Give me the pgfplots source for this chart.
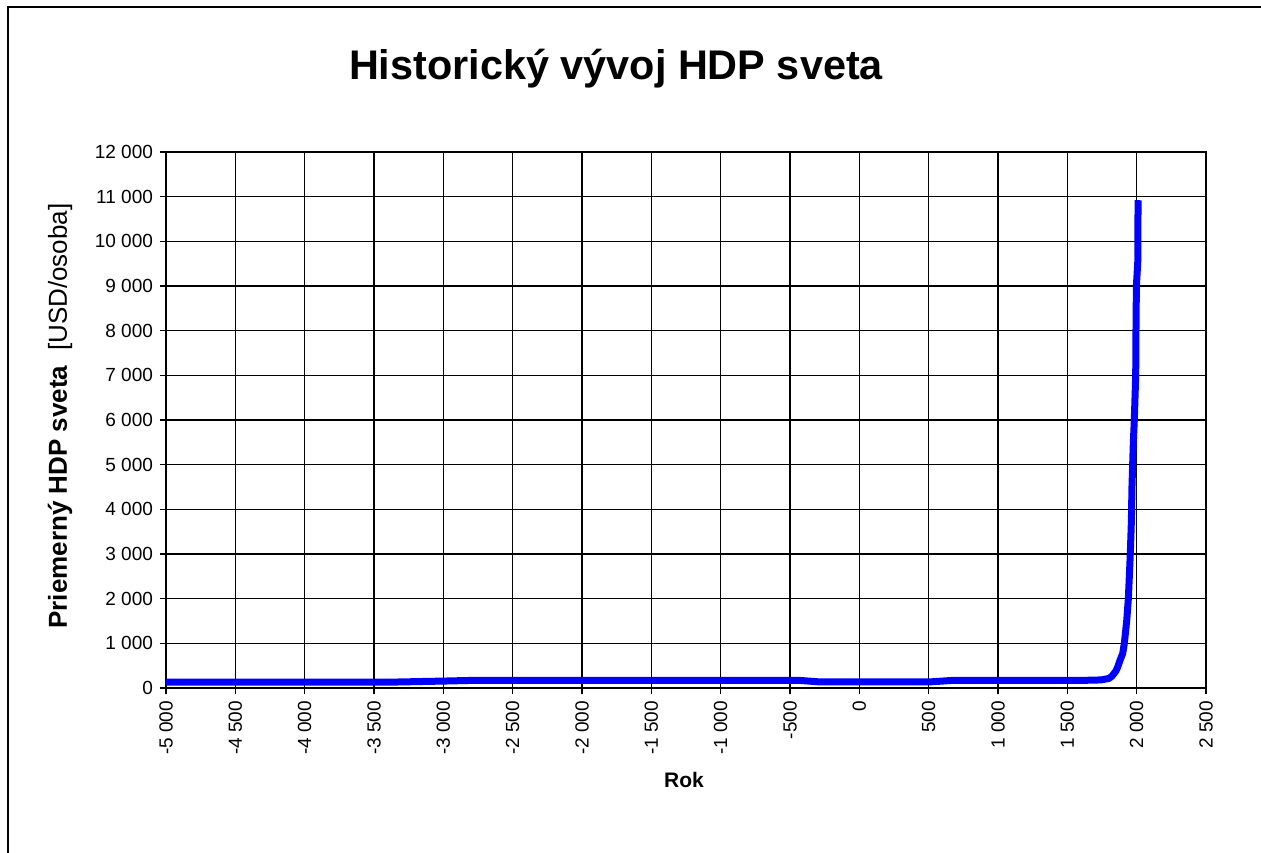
\documentclass[border=0pt]{standalone}
\usepackage{pgfplots}
\pgfplotsset{compat=1.18}
\usepackage{fontspec}
\setmainfont{Liberation Sans}
\begin{document}
\begin{tikzpicture}
\useasboundingbox (-83pt,-82pt) rectangle (547.5pt,344pt);
\begin{axis}[
  at={(0pt,0pt)}, anchor=south west,
  scale only axis, width=520pt, height=268pt,
  xmin=-5000, xmax=2500, ymin=0, ymax=12000,
  xtick={-5000,-4500,...,2500}, ytick={0,1000,...,12000},
  scaled y ticks=false, scaled x ticks=false,
  xtick pos=bottom, ytick pos=left,
  grid=major, grid style={black, line width=0.8pt},
  axis line style={black, line width=1pt},
  tick align=outside, major tick length=3pt,
  tick style={black, line width=0.8pt},
  xticklabel style={rotate=90, anchor=east, font=\fontsize{9.5}{11}\selectfont},
  yticklabel style={font=\fontsize{9.5}{11}\selectfont},
  /pgf/number format/.cd, fixed, 1000 sep={\ }, assume math mode=true,
]
\addplot[blue, line width=3.5pt, line join=round] coordinates {
(-5000,130) (-4000,130) (-3400,130) (-3000,155) (-2800,170) (-2000,170)
(-1000,170) (-430,170) (-280,135) (0,135) (500,135) (670,170) (1000,170)
(1500,170) (1700,175) (1750,185) (1800,215) (1820,260) (1850,380)
(1863,470) (1880,620) (1899,770) (1911,1000) (1928,1500) (1940,2000)
(1947,2500) (1954,3000) (1962,3750) (1966,4500) (1971,5000) (1976,5500)
(1983,6000) (1993,7000) (1995,8000) (1998,9000) (2008,9550) (2010,10920)
};
\end{axis}
\draw[line width=1pt] (-79pt,-90pt) -- (-79pt,340.5pt) -- (560pt,340.5pt);
\node[anchor=base, font=\bfseries\fontsize{20.7}{24}\selectfont] at (225pt,304pt) {Historický vývoj HDP sveta};
\node[rotate=90, font=\fontsize{13}{15}\selectfont] at (-53pt,136pt) {\textbf{Priemerný HDP sveta}\ \ [USD/osoba]};
\node[font=\bfseries\fontsize{10.5}{12}\selectfont] at (259pt,-46pt) {Rok};
\end{tikzpicture}
\end{document}
